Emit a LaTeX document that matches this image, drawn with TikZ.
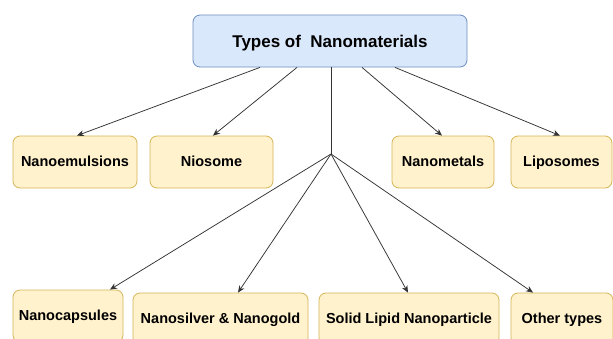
\documentclass[tikz,border=0pt]{standalone}
\usepackage{fontspec}
\setmainfont{Liberation Sans}
\usetikzlibrary{arrows.meta}
\definecolor{topfill}{HTML}{DAE8FC}
\definecolor{topline}{HTML}{6C8EBF}
\definecolor{yfill}{HTML}{FFF2CC}
\definecolor{yline}{HTML}{D6B656}
\definecolor{conn}{HTML}{333333}
\tikzset{
  topbox/.style={draw=topline, fill=topfill, line width=0.8pt, rounded corners=7pt,
    minimum width=274pt, minimum height=52pt, inner sep=0pt,
    text height=12.5pt, text depth=0.5pt,
    font=\fontsize{17}{20}\selectfont\bfseries},
  leaf/.style={draw=yline, fill=yfill, line width=0.8pt, rounded corners=7pt,
    minimum height=52pt, inner sep=0pt, text height=10.5pt, text depth=1pt,
    font=\fontsize{14.5}{17}\selectfont\bfseries},
  link/.style={draw=conn, line width=0.75pt},
  arr/.style={link, -{Stealth[length=7pt,width=6pt]}}
}
\begin{document}
\begin{tikzpicture}[x=1pt,y=-1pt]
\clip (0,0) rectangle (613,338);
\fill[white] (0,0) rectangle (613,338);
\node[topbox] (top) at (330,41) {Types of\ \ Nanomaterials};
\node[leaf, minimum width=124pt] (nem) at (75,162) {Nanoemulsions};
\node[leaf, minimum width=123pt] (nio) at (211.5,162) {Niosome};
\node[leaf, minimum width=102pt] (nme) at (443,162) {Nanometals};
\node[leaf, minimum width=101pt] (lip) at (561.5,162) {Liposomes};
\node[leaf, minimum width=110pt] (cap) at (68,316) {Nanocapsules};
\node[leaf, minimum width=175pt] (sil) at (220.5,319) {Nanosilver \& Nanogold};
\node[leaf, minimum width=180pt] (sln) at (409,319) {Solid Lipid Nanoparticle};
\node[leaf, minimum width=102pt] (oth) at (562,319) {Other types};
\coordinate (j) at (331,154);
\draw[arr] ([xshift=-70pt]top.south) -- ([xshift=2pt]nem.north);
\draw[arr] ([xshift=-33pt]top.south) -- ([xshift=1.5pt]nio.north);
\draw[link] ([xshift=1pt]top.south) -- (j);
\draw[arr] ([xshift=32pt]top.south) -- ([xshift=-1pt]nme.north);
\draw[arr] ([xshift=65pt]top.south) -- ([xshift=-1.5pt]lip.north);
\draw[arr] (j) -- ([xshift=42pt]cap.north);
\draw[arr] (j) -- ([xshift=17.5pt]sil.north);
\draw[arr] (j) -- ([xshift=-1pt]sln.north);
\draw[arr] (j) -- ([xshift=-29pt]oth.north);
\end{tikzpicture}
\end{document}
